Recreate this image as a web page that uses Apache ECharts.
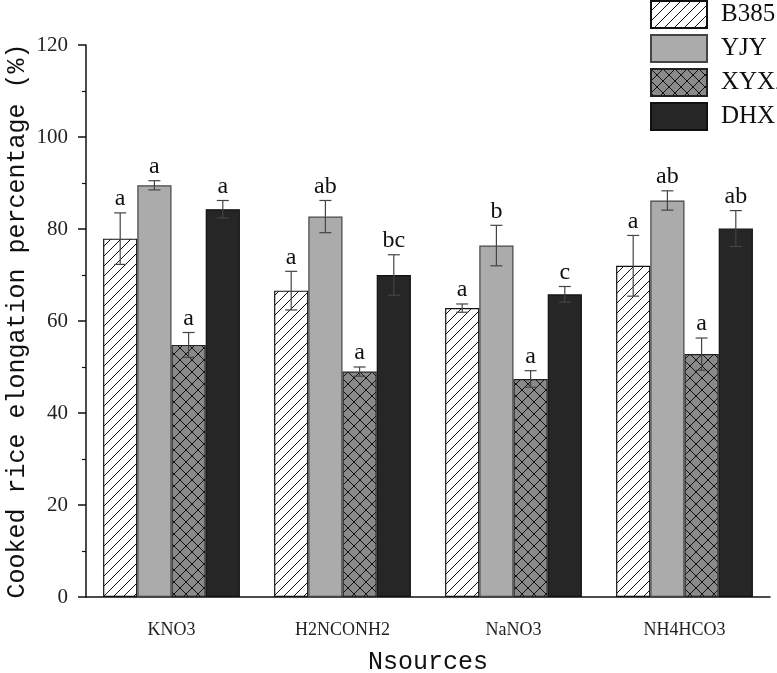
<!DOCTYPE html>
<html>
<head>
<meta charset="utf-8">
<script src="https://cdn.jsdelivr.net/npm/echarts@6/dist/echarts.min.js"></script>
<style>
  html, body { margin: 0; padding: 0; background: #fff; }
  #main { width: 777px; height: 673px; }
</style>
</head>
<body>
<div id="main"></div>
<script>
// nitrogen sources on the x axis
const categories = ['KNO3', 'H2NCONH2', 'NaNO3', 'NH4HCO3'];
const varieties = ['B385', 'YJY', 'XYXZ', 'DHX'];

// mean elongation (%) per variety, one value per category
const b385 = [77.9, 66.6, 62.8, 72.0];
const yjy = [89.5, 82.7, 76.4, 86.2];
const xyxz = [54.8, 49.0, 47.4, 52.8];
const dhx = [84.3, 70.0, 65.8, 80.1];

// standard deviations
const b385Err = [5.6, 4.2, 0.9, 6.6];
const yjyErr = [1.0, 3.5, 4.4, 2.1];
const xyxzErr = [2.7, 1.0, 1.8, 3.5];
const dhxErr = [1.9, 4.4, 1.7, 3.9];

// significance letters
const b385Sig = ['a', 'a', 'a', 'a'];
const yjySig = ['a', 'ab', 'b', 'ab'];
const xyxzSig = ['a', 'a', 'a', 'a'];
const dhxSig = ['a', 'bc', 'c', 'ab'];

const yTicks = { min: 0, max: 120, interval: 20 };

// small canvases used as repeating fills
function hatch(bg, size, slash, backslash) {
  const c = document.createElement('canvas');
  c.width = c.height = size;
  const g = c.getContext('2d');
  g.fillStyle = bg;
  g.fillRect(0, 0, size, size);
  g.strokeStyle = '#111';
  g.lineWidth = 1;
  g.beginPath();
  for (let k = -1; k <= 1; k++) {
    if (slash) { g.moveTo(k * size, size); g.lineTo(k * size + size, 0); }
    if (backslash) { g.moveTo(k * size, 0); g.lineTo(k * size + size, size); }
  }
  g.stroke();
  return c;
}

const styles = [
  { color: { image: hatch('#ffffff', 10, true, false), repeat: 'repeat' }, borderColor: '#111' },
  { color: '#ababab', borderColor: '#444' },
  { color: { image: hatch('#8a8a8a', 12, true, true), repeat: 'repeat' }, borderColor: '#222' },
  { color: '#262626', borderColor: '#111' }
];

const means = [b385, yjy, xyxz, dhx];
const errs = [b385Err, yjyErr, xyxzErr, dhxErr];
const sigs = [b385Sig, yjySig, xyxzSig, dhxSig];

const FONT = 'Liberation Serif';

var dom = document.getElementById('main');
var myChart = echarts.init(dom);

const barSeries = varieties.map((name, i) => ({
  name: name,
  type: 'bar',
  barGap: '0%',
  barCategoryGap: '20%',
  data: means[i],
  itemStyle: {
    color: styles[i].color,
    borderColor: styles[i].borderColor,
    borderWidth: 1.2
  },
  emphasis: { disabled: true }
}));

const errSeries = varieties.map((name, i) => ({
  name: 'err-' + name,
  type: 'custom',
  z: 5,
  data: categories.map((c, j) => [j, means[i][j], errs[i][j]]),
  encode: { x: 0, y: 1 },
  renderItem: function (params, api) {
    const ci = api.value(0);
    const m = api.value(1);
    const sd = api.value(2);
    const band = api.size([1, 0])[0];
    const bw = band * 0.8 / 4;
    const x = api.coord([ci, 0])[0] + (i - 1.5) * bw;
    const yTop = api.coord([ci, m + sd])[1];
    const yBot = api.coord([ci, m - sd])[1];
    const cap = 6;
    const ls = { stroke: '#444', lineWidth: 1.2 };
    return {
      type: 'group',
      children: [
        { type: 'line', shape: { x1: x, y1: yTop, x2: x, y2: yBot }, style: ls },
        { type: 'line', shape: { x1: x - cap, y1: yTop, x2: x + cap, y2: yTop }, style: ls },
        { type: 'line', shape: { x1: x - cap, y1: yBot, x2: x + cap, y2: yBot }, style: ls },
        {
          type: 'text',
          style: {
            x: x, y: yTop - 2,
            text: sigs[i][params.dataIndex],
            align: 'center', verticalAlign: 'bottom',
            font: '24px "' + FONT + '"', fill: '#111'
          }
        }
      ]
    };
  }
}));

var option = {
  backgroundColor: '#fff',
  animation: false,
  legend: {
    data: varieties,
    orient: 'vertical',
    left: 650,
    top: 0,
    padding: 0,
    icon: 'rect',
    itemWidth: 56,
    itemHeight: 27,
    itemGap: 5,
    selectedMode: false,
    textStyle: { fontFamily: FONT, fontSize: 25, lineHeight: 26, color: '#111', padding: [0, 0, 0, 9] }
  },
  grid: { left: 86, right: 7, top: 45, bottom: 76, outerBoundsMode: 'none' },
  xAxis: [{
    type: 'category',
    data: categories,
    name: 'Nsources',
    nameLocation: 'middle',
    nameGap: 53,
    nameTextStyle: { fontFamily: 'Liberation Mono', fontSize: 25, color: '#111' },
    axisLine: { lineStyle: { color: '#111', width: 1.5 } },
    axisTick: { alignWithLabel: true, length: 9, lineStyle: { color: '#111', width: 1.5 } },
    axisLabel: { fontFamily: FONT, fontSize: 18, color: '#222', margin: 24 }
  }, {
    type: 'category',
    data: categories,
    position: 'bottom',
    axisLine: { show: false },
    axisTick: { length: 5, lineStyle: { color: '#111', width: 1.5 } },
    axisLabel: { show: false }
  }],
  yAxis: {
    type: 'value',
    min: yTicks.min,
    max: yTicks.max,
    interval: yTicks.interval,
    name: 'Cooked rice elongation percentage (%)',
    nameLocation: 'middle',
    nameGap: 56,
    nameMoveOverlap: false,
    nameTextStyle: { fontFamily: 'Liberation Mono', fontSize: 25, color: '#111' },
    axisLine: { show: true, lineStyle: { color: '#111', width: 1.5 } },
    axisTick: { show: true, length: 8, lineStyle: { color: '#111', width: 1.5 } },
    minorTick: { show: true, splitNumber: 2, length: 4, lineStyle: { color: '#111', width: 1.2 } },
    splitLine: { show: false },
    axisLabel: { fontFamily: FONT, fontSize: 21, color: '#222', margin: 18 }
  },
  series: barSeries.concat(errSeries)
};

if (option && typeof option === "object") {
  myChart.setOption(option, true);
}
</script>
</body>
</html>
